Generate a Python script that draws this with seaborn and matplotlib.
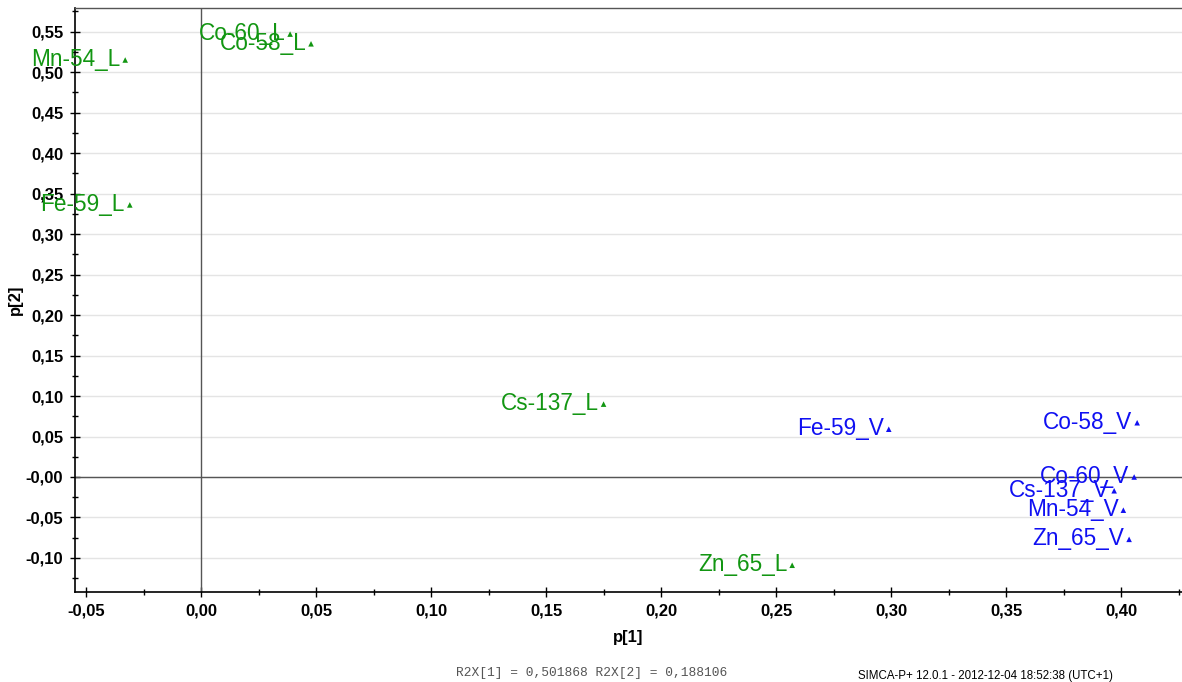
import matplotlib
matplotlib.use("Agg")
import matplotlib.pyplot as plt
import matplotlib.ticker as mticker
import seaborn as sns
import pandas as pd

# ---- data ----
labels = ["Mn-54_L", "Co-60_L", "Co-58_L", "Fe-59_L", "Cs-137_L", "Zn_65_L",
          "Fe-59_V", "Co-58_V", "Co-60_V", "Cs-137_V", "Mn-54_V", "Zn_65_V"]
p1 = [-0.033, 0.0387, 0.0478, -0.031, 0.175, 0.257,
      0.299, 0.407, 0.4057, 0.397, 0.401, 0.4035]
p2 = [0.515, 0.547, 0.535, 0.336, 0.090, -0.109,
      0.059, 0.067, 0.000, -0.017, -0.041, -0.077]
group = ["L"] * 6 + ["V"] * 6
xticks = [-0.05, 0.00, 0.05, 0.10, 0.15, 0.20, 0.25, 0.30, 0.35, 0.40]
yticks = [-0.10, -0.05, 0.00, 0.05, 0.10, 0.15, 0.20, 0.25, 0.30, 0.35, 0.40, 0.45, 0.50, 0.55]
footer_left = "R2X[1] = 0,501868 R2X[2] = 0,188106"
footer_right = "SIMCA-P+ 12.0.1 - 2012-12-04 18:52:38 (UTC+1)"

colors = {"L": "#129612", "V": "#1010f2"}

df = pd.DataFrame({"label": labels, "p1": p1, "p2": p2, "group": group})

sns.set_theme(style="white")
plt.rcParams["font.family"] = ["Liberation Sans", "DejaVu Sans"]
plt.rcParams["text.color"] = "black"
plt.rcParams["xtick.color"] = "black"
plt.rcParams["ytick.color"] = "black"
plt.rcParams["axes.labelcolor"] = "black"

fig = plt.figure(figsize=(11.82, 6.82), dpi=100)
ax = fig.add_axes([0.0635, 0.132, 0.9365, 0.856])

ax.axhline(0, color="#555555", lw=1.0, zorder=1)
ax.axvline(0, color="#555555", lw=1.0, zorder=1)

sns.scatterplot(data=df, x="p1", y="p2", hue="group", palette=colors,
                marker="^", s=16, edgecolor="none", legend=False, ax=ax, zorder=3)

for _, r in df.iterrows():
    ax.annotate(r["label"], (r["p1"], r["p2"]), xytext=(-3.5, 0.5),
                textcoords="offset points", ha="right", va="center",
                fontsize=16.3, color=colors[r["group"]], zorder=4)

ax.set_xlim(-0.0548, 0.4265)
ax.set_ylim(-0.142, 0.579)
ax.set_xticks(xticks)
ax.set_yticks(yticks)
ax.xaxis.set_minor_locator(mticker.MultipleLocator(0.025))
ax.yaxis.set_minor_locator(mticker.MultipleLocator(0.025))

def fmt_x(v, pos):
    return f"{v:.2f}".replace(".", ",")

def fmt_y(v, pos):
    s = f"{v:.2f}".replace(".", ",")
    if abs(v) < 1e-9:
        s = "-0,00"
    return s

ax.xaxis.set_major_formatter(mticker.FuncFormatter(fmt_x))
ax.yaxis.set_major_formatter(mticker.FuncFormatter(fmt_y))

ax.grid(axis="y", color="#e4e4e4", lw=1.0, zorder=0)
ax.grid(axis="x", visible=False)
ax.set_axisbelow(True)

ax.tick_params(axis="both", which="major", direction="inout", length=7, width=1,
               color="black", labelcolor="black", labelsize=12, pad=5,
               bottom=True, left=True)
ax.tick_params(axis="both", which="minor", direction="inout", length=5, width=1,
               color="black", bottom=True, left=True)
for lab in ax.get_xticklabels() + ax.get_yticklabels():
    lab.set_fontweight("bold")

for side in ["left", "bottom"]:
    ax.spines[side].set_color("black")
    ax.spines[side].set_linewidth(1.2)
ax.spines["top"].set_color("#555555")
ax.spines["top"].set_linewidth(1.0)
ax.spines["right"].set_visible(False)

ax.set_xlabel("p[1]", fontsize=12, fontweight="bold", labelpad=8, color="black")
ax.set_ylabel("p[2]", fontsize=12, fontweight="bold", labelpad=2, color="black")

fig.text(456 / 1182, 1 - 673 / 682, footer_left, family="Liberation Mono",
         fontsize=9.3, color="#555555", ha="left", va="center")
fig.text(858 / 1182, 1 - 676 / 682, footer_right, fontsize=8.3,
         color="black", ha="left", va="center")

fig.savefig("out.png", dpi=100)
